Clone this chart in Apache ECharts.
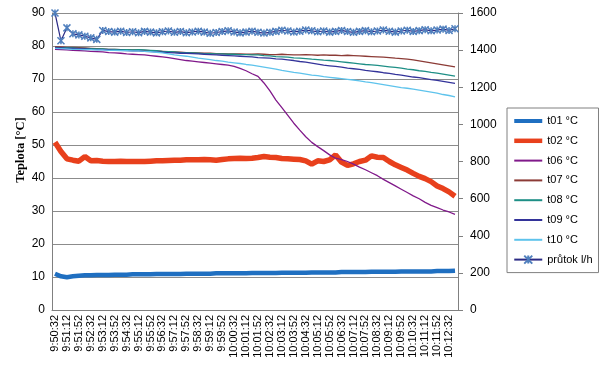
<!DOCTYPE html>
<html>
<head>
<meta charset="utf-8">
<script src="https://cdn.jsdelivr.net/npm/echarts@6/dist/echarts.min.js"></script>
<style>
  html, body { margin: 0; padding: 0; background: #fff; }
  #chart { width: 600px; height: 378px; }
</style>
</head>
<body>
<div id="chart"></div>
<script>
// categories every 20 s, labels shown every 40 s
var times = ['9:50:32', '9:50:52', '9:51:12', '9:51:32', '9:51:52', '9:52:12', '9:52:32', '9:52:52', '9:53:12', '9:53:32',
  '9:53:52', '9:54:12', '9:54:32', '9:54:52', '9:55:12', '9:55:32', '9:55:52', '9:56:12', '9:56:32', '9:56:52',
  '9:57:12', '9:57:32', '9:57:52', '9:58:12', '9:58:32', '9:58:52', '9:59:12', '9:59:32', '9:59:52', '10:00:12',
  '10:00:32', '10:00:52', '10:01:12', '10:01:32', '10:01:52', '10:02:12', '10:02:32', '10:02:52', '10:03:12', '10:03:32',
  '10:03:52', '10:04:12', '10:04:32', '10:04:52', '10:05:12', '10:05:32', '10:05:52', '10:06:12', '10:06:32', '10:06:52',
  '10:07:12', '10:07:32', '10:07:52', '10:08:12', '10:08:32', '10:08:52', '10:09:12', '10:09:32', '10:09:52', '10:10:12',
  '10:10:32', '10:10:52', '10:11:12', '10:11:32', '10:11:52', '10:12:12', '10:12:32', '10:12:52']

var t01 = [11.0, 10.2, 9.9, 10.2, 10.4, 10.5, 10.5, 10.6, 10.6, 10.6, 10.7, 10.7, 10.7, 10.8, 10.8, 10.8, 10.8, 10.9, 10.9, 10.9,
  10.9, 10.9, 11.0, 11.0, 11.0, 11.0, 11.0, 11.1, 11.1, 11.1, 11.1, 11.1, 11.1, 11.2, 11.2, 11.2, 11.2, 11.2, 11.3, 11.3,
  11.3, 11.3, 11.3, 11.4, 11.4, 11.4, 11.4, 11.4, 11.5, 11.5, 11.5, 11.5, 11.5, 11.6, 11.6, 11.6, 11.6, 11.6, 11.7, 11.7,
  11.7, 11.7, 11.7, 11.7, 11.8, 11.8, 11.8, 11.9]

var t02 = [50.8, 48.0, 45.8, 45.4, 45.1, 46.5, 45.2, 45.3, 45.1, 45.0, 45.0, 45.1, 45.0, 45.0, 45.0, 45.0, 45.1, 45.2, 45.2, 45.3,
  45.4, 45.4, 45.5, 45.5, 45.5, 45.6, 45.5, 45.4, 45.6, 45.8, 45.9, 46.0, 45.9, 46.0, 46.2, 46.5, 46.3, 46.2, 45.9, 45.8,
  45.7, 45.6, 45.2, 44.2, 45.2, 45.0, 45.5, 47.0, 44.8, 43.8, 44.3, 45.0, 45.4, 46.7, 46.3, 46.2, 45.0, 44.0, 43.2, 42.4,
  41.4, 40.5, 39.8, 38.9, 37.6, 36.8, 35.8, 34.5]

var t06 = [79.0, 78.9, 78.8, 78.7, 78.6, 78.5, 78.4, 78.3, 78.2, 78.0, 77.9, 77.8, 77.6, 77.5, 77.4, 77.3, 77.1, 76.9, 76.7, 76.5,
  76.2, 75.9, 75.6, 75.4, 75.2, 75.0, 74.8, 74.6, 74.4, 74.2, 73.8, 73.2, 72.5, 71.6, 70.8, 68.8, 66.4, 63.6, 61.3, 59.0,
  56.6, 54.5, 52.5, 50.8, 49.5, 48.3, 47.0, 46.0, 45.6, 45.0, 44.2, 43.3, 42.5, 41.6, 40.7, 39.6, 38.6, 37.6, 36.6, 35.6,
  34.6, 33.7, 32.6, 31.7, 31.0, 30.3, 29.7, 29.0]

var t07 = [79.8, 79.7, 79.6, 79.6, 79.5, 79.4, 79.3, 79.2, 79.1, 79.0, 79.0, 78.9, 78.9, 78.8, 78.8, 78.7, 78.6, 78.5, 78.4, 78.3,
  78.2, 78.1, 78.0, 78.0, 77.9, 77.8, 77.8, 77.7, 77.7, 77.6, 77.6, 77.6, 77.5, 77.5, 77.6, 77.5, 77.4, 77.4, 77.5, 77.4,
  77.3, 77.3, 77.4, 77.3, 77.2, 77.3, 77.2, 77.2, 77.1, 77.2, 77.1, 77.0, 76.9, 76.8, 76.7, 76.6, 76.5, 76.3, 76.2, 76.0,
  75.8, 75.5, 75.2, 74.9, 74.6, 74.3, 74.0, 73.7]

var t08 = [79.6, 79.5, 79.5, 79.4, 79.3, 79.3, 79.2, 79.1, 79.1, 79.0, 79.0, 78.9, 78.9, 78.8, 78.9, 78.8, 78.7, 78.6, 78.4, 78.3,
  78.2, 78.0, 78.0, 77.9, 77.8, 77.7, 77.7, 77.6, 77.6, 77.5, 77.5, 77.4, 77.4, 77.3, 77.3, 77.1, 77.0, 76.8, 76.7, 76.6,
  76.4, 76.3, 76.2, 76.0, 75.9, 75.7, 75.6, 75.4, 75.2, 75.0, 74.8, 74.6, 74.4, 74.3, 74.1, 73.9, 73.7, 73.5, 73.3, 73.0,
  72.8, 72.5, 72.3, 72.0, 71.8, 71.5, 71.2, 70.9]

var t09 = [79.5, 79.4, 79.3, 79.3, 79.2, 79.1, 79.0, 78.9, 78.9, 78.8, 78.7, 78.7, 78.6, 78.5, 78.5, 78.4, 78.3, 78.2, 78.1, 78.0,
  77.9, 77.8, 77.8, 77.7, 77.6, 77.5, 77.4, 77.3, 77.2, 77.1, 77.0, 76.9, 76.8, 76.7, 76.5, 76.4, 76.3, 76.1, 76.0, 75.8,
  75.6, 75.3, 75.1, 74.8, 74.5, 74.2, 74.0, 73.8, 73.6, 73.3, 73.1, 72.9, 72.6, 72.4, 72.2, 71.9, 71.7, 71.4, 71.2, 70.9,
  70.6, 70.4, 70.1, 69.8, 69.6, 69.3, 69.0, 68.7]

var t10 = [79.3, 79.2, 79.1, 79.0, 79.0, 78.9, 78.9, 78.8, 78.8, 78.7, 78.7, 78.6, 78.6, 78.5, 78.5, 78.4, 78.3, 78.1, 77.9, 77.6,
  77.3, 77.1, 76.9, 76.6, 76.3, 76.1, 75.9, 75.6, 75.4, 75.1, 74.9, 74.7, 74.4, 74.2, 73.9, 73.6, 73.3, 73.0, 72.6, 72.3,
  72.0, 71.8, 71.5, 71.2, 71.0, 70.7, 70.5, 70.3, 70.1, 69.9, 69.7, 69.4, 69.1, 68.9, 68.6, 68.3, 68.0, 67.7, 67.4, 67.2,
  66.9, 66.6, 66.3, 66.0, 65.7, 65.3, 65.0, 64.6]

// flow, right axis (l/h)
var prutok = [1600, 1450, 1520, 1488, 1482, 1475, 1466, 1458, 1506, 1500, 1497, 1502, 1495, 1499, 1494, 1501, 1497, 1493, 1499, 1503,
  1496, 1500, 1494, 1498, 1502, 1497, 1491, 1495, 1500, 1504, 1498, 1493, 1497, 1502, 1496, 1492, 1496, 1501, 1507, 1503,
  1498, 1502, 1508, 1504, 1499, 1503, 1497, 1501, 1506, 1500, 1496, 1501, 1505, 1499, 1503, 1508, 1502, 1497, 1503, 1507,
  1501, 1505, 1510, 1504, 1508, 1513, 1506, 1515]

var leftTicks = ['0', '10', '20', '30', '40', '50', '60', '70', '80', '90']
var rightTicks = ['0', '200', '400', '600', '800', '1000', '1200', '1400', '1600']

var myChart = echarts.init(document.getElementById('chart'))

var font = '"Liberation Sans", Arial, sans-serif'
var xMark = 'path://M0,0L10,10M10,0L0,10M5,0L5,10'

var colors = {
  t01: '#1f6fc1',
  t02: '#e8401c',
  t06: '#80198a',
  t07: '#8c3b36',
  t08: '#1e8f86',
  t09: '#33339a',
  t10: '#5ec3ec'
}

function thin (name, data, color) {
  return {
    name: name,
    type: 'line',
    data: data,
    yAxisIndex: 0,
    showSymbol: false,
    symbol: 'none',
    lineStyle: { color: color, width: 1.3 },
    itemStyle: { color: color }
  }
}

// legend entry with only a line, no circle
function legLine (name, color, w) {
  return {
    name: name,
    itemStyle: { opacity: 0 },
    lineStyle: { color: color, width: w }
  }
}

myChart.setOption({
  animation: false,
  textStyle: { fontFamily: font },
  grid: { left: 52, right: 142, top: 13, bottom: 68 },
  legend: {
    orient: 'vertical',
    left: 507,
    top: 108,
    padding: [6, 6, 6, 5],
    itemWidth: 28,
    itemHeight: 10,
    itemGap: 5.8,
    backgroundColor: '#fff',
    borderColor: '#808080',
    borderWidth: 1,
    borderRadius: 0,
    textStyle: { fontSize: 11, color: '#000', lineHeight: 14, fontFamily: font },
    data: [
      legLine('t01 °C', colors.t01, 4),
      legLine('t02 °C', colors.t02, 4.5),
      legLine('t06 °C', colors.t06, 2),
      legLine('t07 °C', colors.t07, 2),
      legLine('t08 °C', colors.t08, 2),
      legLine('t09 °C', colors.t09, 2),
      legLine('t10 °C', colors.t10, 2),
      { name: 'průtok l/h', lineStyle: { color: '#2b2b85', width: 2 } }
    ]
  },
  graphic: [{
    type: 'text',
    x: 21,
    y: 150,
    rotation: Math.PI / 2,
    style: {
      text: 'Teplota [°C]',
      font: 'bold 12.5px "Liberation Serif", "Times New Roman", serif',
      fill: '#000',
      align: 'center',
      verticalAlign: 'middle'
    }
  }],
  xAxis: {
    type: 'category',
    data: times,
    boundaryGap: true,
    axisLine: { lineStyle: { color: '#808080', width: 1 } },
    axisTick: { show: false },
    axisLabel: { interval: 1, rotate: 90, fontSize: 11, color: '#000', margin: 5 }
  },
  yAxis: [{
    type: 'value',
    min: 0,
    max: 90,
    interval: 10,
    position: 'left',
    axisLine: { show: true, lineStyle: { color: '#808080', width: 1 } },
    axisTick: { show: false },
    axisLabel: {
      fontSize: 12,
      color: '#000',
      margin: 7,
      formatter: function (v) { return leftTicks[Math.round(v / 10)] }
    },
    splitLine: { show: true, lineStyle: { color: '#8c8c8c', width: 1 } }
  }, {
    type: 'value',
    min: 0,
    max: 1600,
    interval: 200,
    position: 'right',
    axisLine: { show: true, lineStyle: { color: '#808080', width: 1 } },
    axisTick: { show: true, length: 5, lineStyle: { color: '#808080' } },
    axisLabel: {
      fontSize: 12,
      color: '#000',
      margin: 12,
      formatter: function (v) { return rightTicks[Math.round(v / 200)] }
    },
    splitLine: { show: false }
  }],
  series: [
    {
      name: 't01 °C',
      type: 'line',
      data: t01,
      showSymbol: false,
      symbol: 'none',
      lineStyle: { color: colors.t01, width: 4.5 },
      itemStyle: { color: colors.t01 }
    },
    {
      name: 't02 °C',
      type: 'line',
      data: t02,
      showSymbol: false,
      symbol: 'none',
      lineStyle: { color: colors.t02, width: 5.5 },
      itemStyle: { color: colors.t02 }
    },
    thin('t06 °C', t06, colors.t06),
    thin('t07 °C', t07, colors.t07),
    thin('t08 °C', t08, colors.t08),
    thin('t09 °C', t09, colors.t09),
    thin('t10 °C', t10, colors.t10),
    {
      name: 'průtok l/h',
      type: 'line',
      data: prutok,
      yAxisIndex: 1,
      symbol: xMark,
      symbolSize: 7,
      showAllSymbol: true,
      lineStyle: { color: '#2b2b85', width: 1.2 },
      itemStyle: { color: 'none', borderColor: '#4f7fbd', borderWidth: 1.5 }
    }
  ]
})
</script>
</body>
</html>
